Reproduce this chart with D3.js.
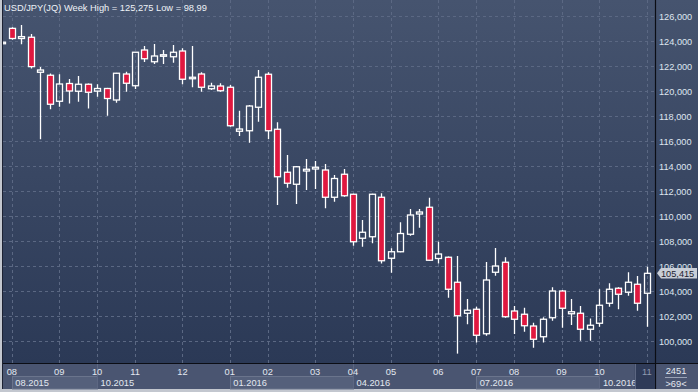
<!DOCTYPE html>
<html><head><meta charset="utf-8">
<script src="https://cdn.jsdelivr.net/npm/d3@7"></script>
<style>html,body{margin:0;padding:0;background:#c3c7cf;overflow:hidden}svg{display:block}</style>
</head><body><svg id="c" width="698" height="392"></svg>
<script>
// ---- data (weekly USD/JPY bars, index 0 = partially visible first bar) ----
const titleText = "USD/JPY(JQ) Week High = 125,275 Low = 98,99";
const openV  = [123.78,125.01,124.20,124.30,121.50,121.26,119.18,120.60,119.98,120.54,119.99,120.20,119.28,121.36,120.42,123.28,122.34,122.80,122.74,123.20,121.00,121.36,120.18,120.40,120.30,116.78,116.82,118.70,121.34,116.94,113.50,112.54,113.60,113.76,113.68,111.50,113.34,111.74,108.22,108.34,111.50,106.62,107.14,108.54,110.16,110.70,106.60,106.70,104.70,102.22,102.54,100.58,105.50,106.30,102.40,102.14,101.20,100.34,101.86,104.00,102.18,102.22,100.94,101.42,103.02,104.22,103.90,104.54,103.82];
const highV  = [123.90,125.10,125.28,124.56,121.92,121.40,121.34,120.96,121.20,120.60,120.54,120.25,121.45,121.54,123.12,123.60,123.76,123.28,123.68,123.42,123.60,121.50,120.66,120.62,120.48,118.42,118.88,121.68,121.50,117.50,114.88,114.00,114.56,114.40,114.16,113.28,113.76,111.78,109.68,111.78,111.82,107.42,109.50,110.56,110.56,111.46,107.94,106.76,106.80,103.36,102.74,106.32,107.44,106.70,102.80,102.66,101.46,101.90,104.30,104.08,103.36,102.80,101.80,104.14,104.62,104.30,105.50,105.20,105.94];
const lowV   = [123.78,124.10,123.74,121.80,116.14,118.54,118.74,119.00,119.14,118.60,119.54,118.02,119.06,119.94,120.16,122.32,122.16,122.16,122.26,120.54,120.30,119.94,120.08,119.94,117.14,116.40,115.86,117.54,116.16,110.88,112.26,110.96,112.08,112.16,110.62,111.14,111.54,107.62,107.54,107.82,106.20,105.46,107.10,108.42,109.06,106.40,106.20,103.46,98.99,101.34,99.88,100.42,105.22,101.86,100.56,100.74,99.46,99.88,101.62,101.06,101.28,100.02,100.02,101.14,102.74,102.54,103.62,102.42,101.14];
const closeV = [123.90,124.20,124.35,121.95,121.68,118.94,120.56,120.00,120.54,119.90,120.20,119.40,121.42,120.62,123.10,122.58,122.80,122.90,123.10,120.94,121.10,120.30,120.40,120.02,117.22,116.96,118.80,121.10,116.82,113.14,112.62,113.94,113.74,113.90,111.50,113.00,111.62,107.94,108.70,111.74,106.42,107.14,108.60,110.08,110.32,106.46,106.96,104.14,102.02,102.46,100.46,104.88,106.00,101.94,101.74,101.22,100.14,101.74,104.00,102.62,102.34,100.94,101.26,102.86,104.14,103.74,104.70,103.02,105.415];
const priceTicks = [100,102,104,106,108,110,112,114,116,118,120,122,124,126];
const monthLabels = ["08","09","10","11","12","01","02","03","04","05","06","07","08","09","10","11"];
const monthBars   = [1,6,10,14,19,24,28,33,37,41,46,50,54,59,63,68];
const quarterLabels = ["08.2015","10.2015","01.2016","04.2016","07.2016","10.2016"];
const quarterBars   = [1,10,24,37,50,63];
const lastPrice = 105.415;
const barTotal = "2451", barVisible = ">69<";

// ---- layout ----
const W = 698, H = 392;
const plot = {l: 3, r: 655, t: 0, b: 363};
const svg = d3.select("#c");
const FONT = "'Liberation Sans', Arial, sans-serif";

const x = d3.scaleLinear().domain([1, 68]).range([11.8, 646.8]);
const y = d3.scaleLinear().domain([100, 126]).range([341, 16]);

const defs = svg.append("defs");
const g1 = defs.append("linearGradient").attr("id", "bg").attr("x1", 0).attr("y1", 0).attr("x2", 0).attr("y2", 1);
g1.append("stop").attr("offset", "0%").attr("stop-color", "#46546f");
g1.append("stop").attr("offset", "100%").attr("stop-color", "#2b3956");
defs.append("clipPath").attr("id", "clip").append("rect")
  .attr("x", plot.l).attr("y", plot.t).attr("width", plot.r - plot.l).attr("height", plot.b - plot.t);

// outer frame
svg.append("rect").attr("width", W).attr("height", H).attr("fill", "#c3c7cf");
svg.append("rect").attr("x", plot.l - 1).attr("y", 0).attr("width", W - plot.l + 1).attr("height", 389).attr("fill", "#1d2233");
svg.append("rect").attr("x", plot.l).attr("y", 0).attr("width", W - plot.l).attr("height", plot.b).attr("fill", "url(#bg)");
// bottom axis panel
svg.append("rect").attr("x", plot.l).attr("y", plot.b + 1).attr("width", plot.r - plot.l).attr("height", 389 - plot.b - 1).attr("fill", "#4a5571");
// right bottom box
svg.append("rect").attr("x", plot.r + 1).attr("y", plot.b + 1).attr("width", W - plot.r - 1).attr("height", 389 - plot.b - 1).attr("fill", "#4a5571");

// grid
const grid = svg.append("g").attr("clip-path", "url(#clip)");
grid.selectAll(".hg").data(priceTicks).join("line")
  .attr("x1", plot.l).attr("x2", plot.r)
  .attr("y1", d => Math.round(y(d)) + 0.5).attr("y2", d => Math.round(y(d)) + 0.5)
  .attr("stroke", "#5b6883").attr("stroke-width", 1).attr("stroke-dasharray", "3,3");
grid.selectAll(".vg").data(monthBars).join("line")
  .attr("x1", d => Math.round(x(d)) + 0.5).attr("x2", d => Math.round(x(d)) + 0.5)
  .attr("y1", plot.t).attr("y2", plot.b)
  .attr("stroke", "#5b6883").attr("stroke-width", 1).attr("stroke-dasharray", "3,3");

// candles
const bars = d3.range(openV.length).map(i => ({i, o: openV[i], h: highV[i], l: lowV[i], c: closeV[i]}));
const cg = svg.append("g").attr("clip-path", "url(#clip)");
const bw = 6;
const cx0 = d => Math.round(x(d.i)) + 0.5;
const cand = cg.selectAll("g.c").data(bars).join("g");
cand.append("line")
  .attr("x1", cx0).attr("x2", cx0)
  .attr("y1", d => y(d.h)).attr("y2", d => y(Math.max(d.o, d.c)))
  .attr("stroke", "#ffffff").attr("stroke-width", 1.3);
cand.append("line")
  .attr("x1", cx0).attr("x2", cx0)
  .attr("y1", d => y(Math.min(d.o, d.c))).attr("y2", d => y(d.l))
  .attr("stroke", "#ffffff").attr("stroke-width", 1.3);
cand.append("rect")
  .attr("x", d => Math.round(x(d.i)) - bw / 2 + 0.5)
  .attr("y", d => y(Math.max(d.o, d.c)))
  .attr("width", bw)
  .attr("height", d => Math.max(1.5, Math.abs(y(d.o) - y(d.c))))
  .attr("fill", d => d.c >= d.o ? "none" : "#e0183f")
  .attr("stroke", "#ffffff").attr("stroke-width", 1.3);

// title
svg.append("text").attr("x", plot.l + 1).attr("y", 11).attr("fill", "#eef2f7")
  .attr("font-family", FONT).attr("font-size", 9.3).text(titleText);

// right axis
svg.append("line").attr("x1", plot.r + 0.5).attr("x2", plot.r + 0.5).attr("y1", 0).attr("y2", 389).attr("stroke", "#0b0d14").attr("stroke-width", 1.2);
const yAxis = d3.axisRight(y).tickValues(priceTicks).tickSize(0).tickPadding(0)
  .tickFormat(v => d3.format(".3f")(v).replace(".", ","));
const ya = svg.append("g").attr("transform", `translate(${plot.r + 4},0)`).call(yAxis);
ya.select(".domain").remove();
ya.selectAll("text").attr("fill", "#dfe6f0").attr("font-family", FONT).attr("font-size", 9.2).attr("dy", "0.35em");

// last price marker
const ly = y(lastPrice);
svg.append("path").attr("d", `M${plot.r + 2},${ly} L${plot.r + 6},${ly - 5.3} L${W - 1},${ly - 5.3} L${W - 1},${ly + 5.3} L${plot.r + 6},${ly + 5.3} Z`)
  .attr("fill", "#c9ced7");
svg.append("text").attr("x", plot.r + 6).attr("y", ly).attr("dy", "0.35em").attr("fill", "#1d2230")
  .attr("font-family", FONT).attr("font-size", 9.2).text(d3.format(".3f")(lastPrice).replace(".", ","));

// bottom axis line
svg.append("line").attr("x1", plot.l).attr("x2", W).attr("y1", plot.b + 0.5).attr("y2", plot.b + 0.5).attr("stroke", "#0b0d14").attr("stroke-width", 1.2);

// quarter boxes
const qEnd = x(68) - 12;
quarterBars.forEach((b, k) => {
  const x0 = x(b), x1 = k < quarterBars.length - 1 ? x(quarterBars[k + 1]) : qEnd;
  if (k % 2 === 0) {
    svg.append("rect").attr("x", Math.round(x0) + 0.5).attr("y", 376.5).attr("width", Math.round(x1 - x0)).attr("height", 12.5)
      .attr("fill", "#55607b").attr("stroke", "#6a748c").attr("stroke-width", 1);
  } else {
    svg.append("line").attr("x1", Math.round(x0) + 0.5).attr("x2", Math.round(x0) + 0.5).attr("y1", 364).attr("y2", 389).attr("stroke", "#5d6782");
  }
  svg.append("text").attr("x", x0 + 3.5).attr("y", 382.7).attr("dy", "0.35em").attr("fill", "#e3e8f0")
    .attr("font-family", FONT).attr("font-size", 9.3).text(quarterLabels[k]);
});
// current period box
svg.append("rect").attr("x", qEnd).attr("y", plot.b + 1).attr("width", plot.r - qEnd).attr("height", 389 - plot.b - 1).attr("fill", "#2f3b58");
svg.append("line").attr("x1", Math.round(qEnd) + 0.5).attr("x2", Math.round(qEnd) + 0.5).attr("y1", 364).attr("y2", 389).attr("stroke", "#5d6782");

// month labels
const xAxisLabels = svg.append("g");
xAxisLabels.selectAll("text").data(monthBars).join("text")
  .attr("x", d => x(d)).attr("y", 372).attr("dy", "0.35em").attr("text-anchor", "middle")
  .attr("fill", (d, k) => k === monthBars.length - 1 ? "#8f9ab0" : "#e3e8f0")
  .attr("font-family", FONT).attr("font-size", 9.3).text((d, k) => monthLabels[k]);

// bottom-right counters
const cx = (plot.r + W) / 2 - 0.5;
svg.append("text").attr("x", cx).attr("y", 370.8).attr("dy", "0.35em").attr("text-anchor", "middle").attr("fill", "#e3e8f0")
  .attr("font-family", FONT).attr("font-size", 9.3).text(barTotal);
svg.append("line").attr("x1", cx - 11).attr("x2", cx + 11).attr("y1", 377.5).attr("y2", 377.5).attr("stroke", "#9aa3b6");
svg.append("text").attr("x", cx).attr("y", 383.5).attr("dy", "0.35em").attr("text-anchor", "middle").attr("fill", "#e3e8f0")
  .attr("font-family", FONT).attr("font-size", 9.3).text(barVisible);
</script></body></html>
